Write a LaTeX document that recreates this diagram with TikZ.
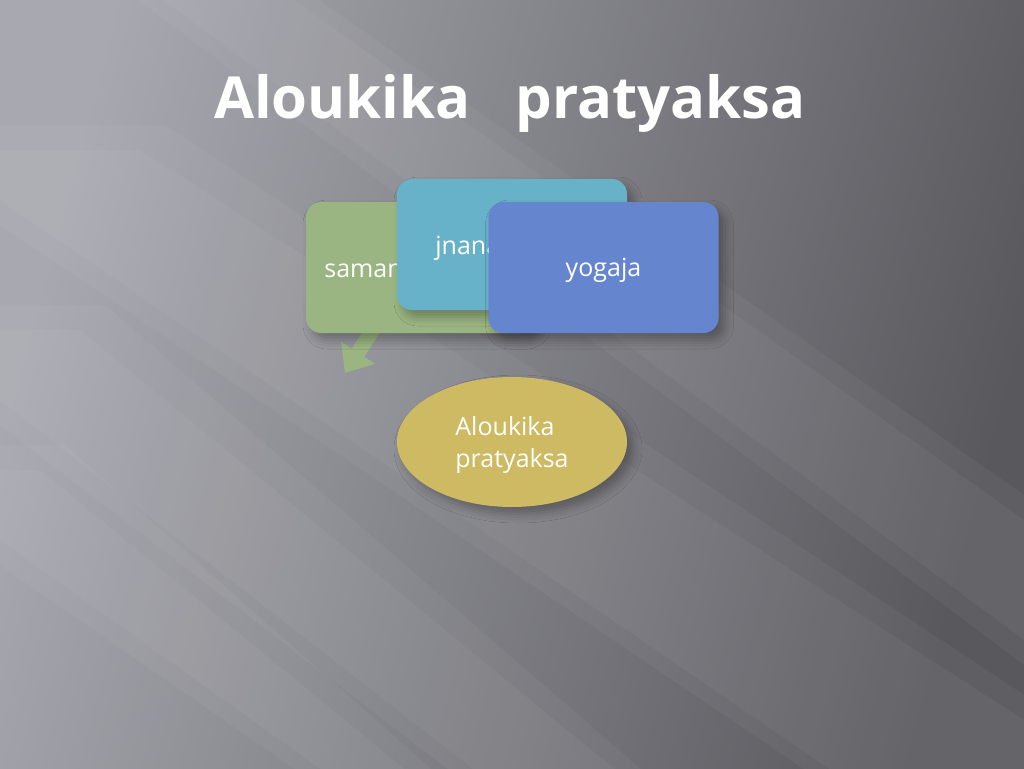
\documentclass[tikz,border=0pt]{standalone}
\usepackage{fontspec}
\setmainfont{Open Sans}
\usetikzlibrary{shapes.geometric, shadows.blur, arrows.meta}
\definecolor{bgLight}{HTML}{A8A8B0}
\definecolor{bgMid}{HTML}{7A7A80}
\definecolor{bgDark}{HTML}{58585D}
\definecolor{greenBox}{HTML}{9BB582}
\definecolor{cyanBox}{HTML}{67B1C9}
\definecolor{blueBox}{HTML}{6585CE}
\definecolor{goldBox}{HTML}{CDBA62}
\tikzset{
x=1pt, y=-1pt, % one unit is one pixel, y runs down
card/.style={rectangle, rounded corners=15pt, minimum width=230pt, minimum height=131pt, text=white, text depth=0pt, font=\fontsize{25}{30}\selectfont, blur shadow={shadow xshift=6pt, shadow yshift=-7pt, shadow blur radius=9pt, shadow opacity=30}}, % the three source boxes
goal/.style={ellipse, minimum width=230pt, minimum height=130pt, text=white, text depth=0pt, align=left, font=\fontsize{25}{32}\selectfont, blur shadow={shadow xshift=6pt, shadow yshift=-7pt, shadow blur radius=9pt, shadow opacity=30}}, % the result ellipse
streak/.style={white, opacity=0.04}, % light bands of the backdrop
}

\begin{document}
\begin{tikzpicture}
        \useasboundingbox (0,0) rectangle (1024,768);
        \clip (0,0) rectangle (1024,768);
        \shade[left color=bgLight, middle color=bgMid, right color=bgDark, shading angle=75] (0,0) rectangle (1024,768);
        % soft light bands, each one laid twice
        \foreach \w in {0,25} {
        \fill[streak] (0,150-\w) -- (140+\w,150-\w) -- (1024,720-\w) -- (1024,790) -- (860-\w,790) -- (0,200+\w) -- cycle;
        \fill[streak] (0,330-\w) -- (80+\w,330-\w) -- (640+\w,790) -- (500-\w,790) -- (0,400+\w) -- cycle;
        \fill[streak] (0,470-\w) -- (40+\w,470-\w) -- (430+\w,790) -- (350-\w,790) -- (0,540+\w) -- cycle;
        \fill[streak] (150-\w,-10) -- (280+\w,-10) -- (1024,520-\w) -- (1024,640+\w) -- cycle;
        }

        \node[anchor=base, text=white, font=\bfseries\fontsize{58}{70}\selectfont] (title) at (510,118) {Aloukika \ \ pratyaksa};

        \coordinate (arrow-tip) at (345,373);
        \draw[greenBox, line width=15pt, -{Triangle[width=39pt, length=24pt]}] (383,314) -- (arrow-tip);

        \node[card, fill=greenBox] (samanya) at (421,267.5) {samanyalaksana};
        \node[card, fill=cyanBox] (jnana) at (512,244.5) {jnanalaksana};
        \node[card, fill=blueBox] (yogaja) at (603.5,267.5) {yogaja};

        \node[goal, fill=goldBox] (aloukika) at (512,442) {Aloukika\\pratyaksa};
    \end{tikzpicture}
\end{document}
